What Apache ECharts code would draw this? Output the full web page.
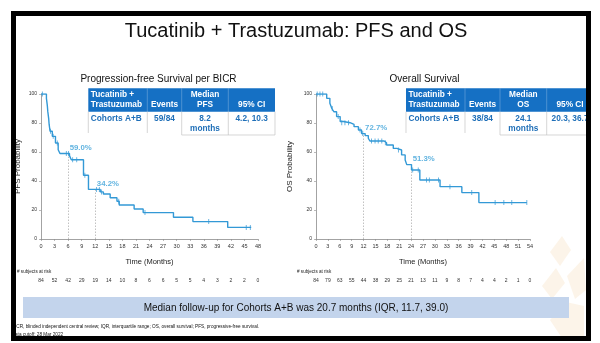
<!DOCTYPE html>
<html><head><meta charset="utf-8">
<script src="https://cdn.jsdelivr.net/npm/echarts@6/dist/echarts.min.js"></script>
<style>html,body{margin:0;padding:0;background:#fff}#c{width:600px;height:343px}</style>
</head><body><div id="c"></div>
<script>
// ---------- data ----------
const pfsCurve = [[0,100],[1.2,97],[1.4,92],[1.5,88],[1.7,83],[1.8,79],[2.0,74.3],[2.5,70.8],[3.2,66.2],[3.8,61.6],[4.2,59.0],[6.3,57.5],[6.7,54.7],[9.4,44],[10.5,34.2],[13.1,32.5],[13.8,31],[15.3,28.5],[16.8,26],[17.3,23.5],[20.6,20.7],[22.6,18.2],[29.3,15],[33.6,12],[41.3,8],[46.5,8]];
const pfsCensor = [[0.3,100],[2.1,74.3],[2.7,70.8],[3.6,66.2],[5.6,59.0],[6.1,59.0],[7.0,54.7],[7.9,54.7],[9.7,44],[12.3,34.2],[12.9,34.2],[13.4,32.5],[17.2,26],[23.0,18.2],[37.1,12],[45.4,8],[46.3,8]];
const osCurve = [[0,100],[2.7,97],[3.5,93.6],[4.0,90],[4.5,87.8],[5.2,84.4],[6.1,81],[6.9,80.2],[8.6,79],[9.6,77.5],[10.7,75.2],[11.5,72.7],[12.4,71.3],[13.2,69.5],[13.6,67.6],[17.2,66.4],[17.8,64.8],[19.5,62.5],[20.4,61.4],[21.6,58],[22.5,54.5],[22.9,51.3],[24.1,47.6],[26.2,40.7],[31.3,36.1],[36.8,32],[41.1,25.1],[53.2,25.1]];
const osCensor = [[0.3,100],[1.0,100],[1.7,100],[4.1,90],[5.6,84.4],[6.5,80.2],[7.3,80.2],[8.2,80.2],[11.1,75.2],[11.8,72.7],[14.0,67.6],[14.9,67.6],[15.7,67.6],[16.6,67.6],[17.5,66.4],[20.8,61.4],[24.4,47.6],[25.8,47.6],[27.9,40.7],[28.6,40.7],[30.9,40.7],[33.8,36.1],[39.3,32],[45.2,25.1],[47.4,25.1],[49.4,25.1],[53.2,25.1]];
const pfsLandmarks = [[6,59.0],[12,34.2]];
const osLandmarks = [[12,72.7],[24,51.3]];
const pfsAtRisk = [84,52,42,29,19,14,10,8,6,6,5,5,4,3,2,2,0];
const osAtRisk = [84,79,63,55,44,38,29,25,21,13,11,9,8,7,4,4,2,1,0];
const pfsTableHeader = [['Tucatinib +','Trastuzumab'],['','Events'],['Median','PFS'],['','95% CI']];
const pfsTableBody = [['Cohorts A+B',''],['59/84',''],['8.2','months'],['4.2, 10.3','']];
const osTableHeader = [['Tucatinib +','Trastuzumab'],['','Events'],['Median','OS'],['','95% CI']];
const osTableBody = [['Cohorts A+B',''],['38/84',''],['24.1','months'],['20.3, 36.7','']];
const titleText = 'Tucatinib + Trastuzumab: PFS and OS';
const pfsTitle = 'Progression-free Survival per BICR';
const osTitle = 'Overall Survival';
const bandText = 'Median follow-up for Cohorts A+B was 20.7 months (IQR, 11.7, 39.0)';
const footnote1 = 'ICR, blinded independent central review; IQR, interquartile range; OS, overall survival; PFS, progressive-free survival.';
const footnote2 = 'ata cutoff: 28 Mar 2022';

// ---------- styling / layout ----------
const FONT = '"Liberation Sans", Arial, sans-serif';
const CURVE = '#3399d6';
const AXIS = '#8c8c8c';

function timeAxis(grid, max) {
  return { type:'value', gridIndex:grid, min:0, max:max, interval:3,
    axisLine:{show:true, lineStyle:{color:AXIS, width:0.8}},
    axisTick:{show:true, length:2, lineStyle:{color:AXIS, width:0.6}},
    axisLabel:{fontSize:5.5, color:'#333', margin:4, fontFamily:FONT},
    splitLine:{show:false},
    name:'Time (Months)', nameLocation:'middle', nameGap:19,
    nameTextStyle:{fontSize:7.5, color:'#222', fontFamily:FONT} };
}
function riskAxis(grid, data) {
  return { type:'category', gridIndex:grid, data:data.map(String), boundaryGap:false,
    position:'bottom', offset:36,
    axisLine:{show:false}, axisTick:{show:false},
    axisLabel:{interval:0, fontSize:5, margin:3, color:'#333', fontFamily:FONT} };
}
function probAxis(grid, name, gap) {
  return { type:'value', gridIndex:grid, min:0, max:100, interval:20,
    axisLine:{show:true, lineStyle:{color:AXIS, width:0.8}},
    axisTick:{show:true, length:2, lineStyle:{color:AXIS, width:0.6}},
    axisLabel:{fontSize:5, color:'#333', margin:4, fontFamily:FONT},
    splitLine:{show:false},
    name:name, nameLocation:'middle', nameGap:gap,
    nameTextStyle:{fontSize:8, color:'#222', fontFamily:FONT} };
}
function curveSeries(idx, data) {
  return { type:'line', xAxisIndex:idx, yAxisIndex:idx, data:data, step:'end',
    showSymbol:false, lineStyle:{color:CURVE, width:1.4}, z:5, silent:true };
}
function censorSeries(idx, data) {
  return { type:'scatter', xAxisIndex:idx, yAxisIndex:idx, data:data,
    symbol:'rect', symbolSize:[0.9,5], itemStyle:{color:CURVE}, z:6, silent:true };
}
function landmarkSeries(idx, data) {
  return { type:'scatter', xAxisIndex:idx, yAxisIndex:idx, data:data,
    symbolSize:0.1, itemStyle:{color:'rgba(0,0,0,0)'}, z:7, silent:true,
    label:{show:true, position:'right', distance:1.5, offset:[0,-5.5],
      formatter:p => p.value[1].toFixed(1) + '%',
      fontSize:7.8, fontWeight:'bold', color:'#3aa0d8', fontFamily:FONT},
    markLine:{silent:true, symbol:'none', label:{show:false},
      lineStyle:{color:'#a8a8a8', type:[1.5,1.5], width:0.7},
      data:data.map(d => [{coord:[d[0],0]},{coord:[d[0],d[1]]}])} };
}

function txt(t, x, y, size, opts) {
  return Object.assign({type:'text', z:20, silent:true,
    style:Object.assign({text:t, x:x, y:y, fontSize:size, fontFamily:FONT, fill:'#111',
      align:'center', verticalAlign:'middle'}, (opts||{}))});
}
function tableGraphics(cols, clipRight, header, body) {
  const g = [];
  const top = 88.3, mid = 111.7, bot = 135;
  const right = Math.min(cols[4], clipRight);
  g.push({type:'rect', z:10, silent:true, shape:{x:cols[0], y:top, width:right-cols[0], height:mid-top}, style:{fill:'#1570c4'}});
  for (let i = 1; i < 4; i++) g.push({type:'line', z:11, silent:true, shape:{x1:cols[i], y1:top, x2:cols[i], y2:mid}, style:{stroke:'rgba(255,255,255,0.4)', lineWidth:0.6}});
  for (let i = 0; i < 5; i++) {
    if (cols[i] > clipRight) continue;
    g.push({type:'line', z:11, silent:true, shape:{x1:cols[i], y1:mid, x2:cols[i], y2: i >= 2 ? bot : bot - 2}, style:{stroke:'#c4c4c4', lineWidth:0.7}});
  }
  g.push({type:'line', z:11, silent:true, shape:{x1:cols[2], y1:bot, x2:right, y2:bot}, style:{stroke:'#c4c4c4', lineWidth:0.7}});
  const hy = [95, 105], by = [118.3, 128.7];
  for (let c = 0; c < 4; c++) {
    const x = c === 0 ? cols[0] + 2.5 : (cols[c] + cols[c+1]) / 2;
    const align = c === 0 ? 'left' : 'center';
    header[c].forEach((t, k) => { if (t) g.push(txt(t, x, hy[k], 8.3, {fill:'#fff', fontWeight:'bold', align:align})); });
    body[c].forEach((t, k) => { if (t) g.push(txt(t, x, by[k], 8.3, {fill:'#1f6fb8', fontWeight:'bold', align:align})); });
  }
  return g;
}

const graphics = [];
// watermark (faint)
const WM = {fill:'#fbefe0', opacity:0.7};
graphics.push({type:'polygon', z:1, silent:true, shape:{points:[[550,252],[562,236],[571,250],[560,266]]}, style:WM});
graphics.push({type:'polygon', z:1, silent:true, shape:{points:[[542,286],[556,268],[565,283],[552,299]]}, style:WM});
graphics.push({type:'polygon', z:1, silent:true, shape:{points:[[567,276],[584,258],[586,290],[575,299]]}, style:WM});
graphics.push({type:'polygon', z:1, silent:true, shape:{points:[[550,320],[566,302],[584,306],[584,338],[562,338]]}, style:WM});
// titles
graphics.push(txt(titleText, 296, 31, 20, {fill:'#111'}));
graphics.push(txt(pfsTitle, 158.5, 79.5, 10, {fill:'#111'}));
graphics.push(txt(osTitle, 424.5, 79.5, 10, {fill:'#111'}));
// tables
tableGraphics([88.3,147.3,181.7,228.3,275], 600, pfsTableHeader, pfsTableBody).forEach(e => graphics.push(e));
tableGraphics([406,465,500,546.7,593.4], 588, osTableHeader, osTableBody).forEach(e => graphics.push(e));
// subjects at risk labels
graphics.push(txt('# subjects at risk', 17, 272, 4.6, {align:'left', fill:'#222'}));
graphics.push(txt('# subjects at risk', 297, 272, 4.6, {align:'left', fill:'#222'}));
// band
graphics.push({type:'rect', z:12, silent:true, shape:{x:23, y:297, width:546, height:21}, style:{fill:'#c3d4ec'}});
graphics.push(txt(bandText, 296, 308, 10, {fill:'#111', z:13}));
// footnotes
graphics.push(txt(footnote1, 15, 326.5, 4.7, {align:'left', fill:'#111'}));
graphics.push(txt(footnote2, 15, 334.5, 4.7, {align:'left', fill:'#111'}));
// frame
graphics.push({type:'rect', z:100, silent:true, shape:{x:13.5, y:13.5, width:575, height:325}, style:{fill:'none', stroke:'#000', lineWidth:5}});

const chart = echarts.init(document.getElementById('c'), null, {renderer:'canvas'});
chart.setOption({
  animation:false,
  backgroundColor:'#fff',
  textStyle:{fontFamily:FONT},
  grid:[
    {left:41, top:94, width:217, height:145},
    {left:316, top:94, width:214, height:145}
  ],
  xAxis:[ timeAxis(0,48), timeAxis(1,54), riskAxis(0,pfsAtRisk), riskAxis(1,osAtRisk) ],
  yAxis:[ probAxis(0,'PFS Probability',19), probAxis(1,'OS Probability',22) ],
  series:[
    curveSeries(0,pfsCurve), censorSeries(0,pfsCensor), landmarkSeries(0,pfsLandmarks),
    curveSeries(1,osCurve), censorSeries(1,osCensor), landmarkSeries(1,osLandmarks)
  ],
  graphic:graphics
});
</script>
</body></html>
